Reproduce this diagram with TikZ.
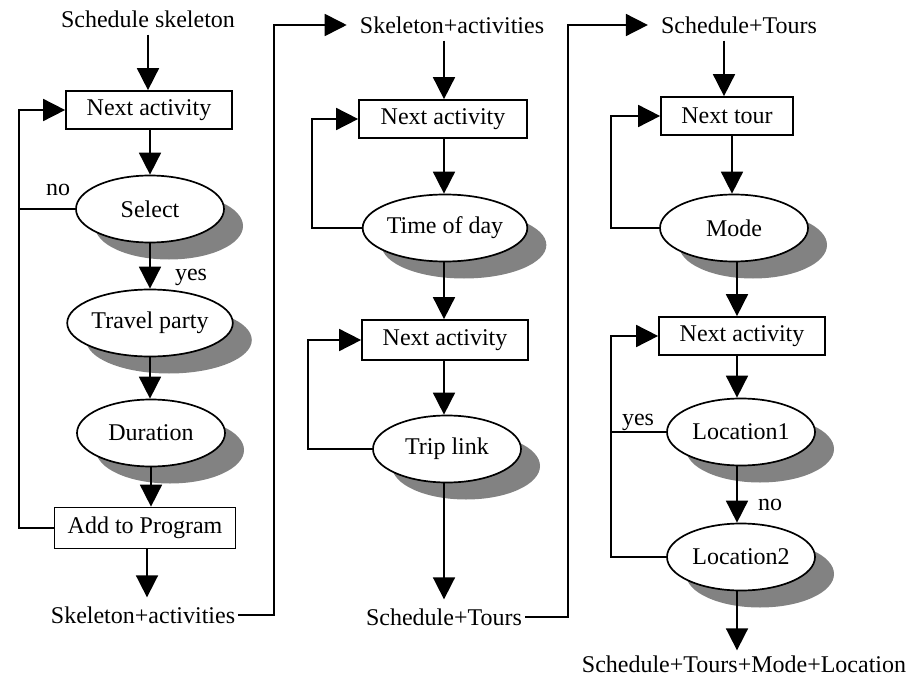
\documentclass[tikz,border=0pt]{standalone}
\usepackage{fontspec}
\setmainfont{Liberation Serif}
\usetikzlibrary{shapes.geometric,arrows.meta,shadows}
\definecolor{shadowgray}{HTML}{828282}
\begin{document}
\begin{tikzpicture}[x=1pt,y=-1pt,
  every node/.style={font=\fontsize{24}{28}\selectfont},
  line/.style={line width=1.7pt},
  arr/.style={line width=1.7pt,-{Triangle[width=22pt,length=22pt]}},
  txt/.style={inner sep=3pt},
  boxnode/.style={draw,line width=1.7pt,fill=white,inner sep=0pt,minimum height=38pt},
  ell/.style={ellipse,draw,line width=1.7pt,fill=white,inner sep=0pt,minimum width=148pt,minimum height=67pt,
    drop shadow={shadow xshift=19pt,shadow yshift=-17pt,fill=shadowgray,opacity=1}},
  lbl/.style={inner sep=0pt}]
\useasboundingbox (0,0) rectangle (919,677);
% ---------- column 1
\node[txt] (s1) at (148,19) {Schedule skeleton};
\node[boxnode,minimum width=166pt] (n1) at (149,110) {Next activity};
\node[ell] (sel) at (150,209) {Select};
\node[ell] (tp) at (150,323) {Travel party};
\node[ell] (dur) at (151,433) {Duration};
\node[boxnode,minimum width=181pt,minimum height=41pt] (add) at (145,528) {Add to Program};
\node[txt] (sa1) at (143,615) {Skeleton+activities};
\coordinate (c1) at (19,0);
\coordinate (c2) at (274,0);
\draw[arr,shorten <=4pt] (s1.south) -- (s1.south |- n1.north);
\draw[arr] (n1.south -| sel.north) -- (sel.north);
\draw[arr] (sel.south) -- (tp.north);
\draw[arr] (tp.south) -- (tp.south |- dur.north);
\draw[arr] (dur.south) -- (dur.south |- add.north);
\draw[arr,shorten >=6pt] (add.south -| 147,0) -- (sa1.north -| 147,0);
\draw[arr] (add.west) -| (c1 |- n1.west) -- (n1.west);
\draw[line] (sel.west) -- (sel.west -| c1);
\node[lbl] (no1) at (58,190) {no};
\node[lbl] (yes1) at (191,277) {yes};
% ---------- column 2
\node[txt] (sa2) at (452,25) {Skeleton+activities};
\draw[arr,shorten >=10pt] (sa1.east) -| (c2 |- sa2.west) -- (sa2.west);
\node[boxnode,minimum width=168pt] (n2) at (443,119) {Next activity};
\node[ell] (tod) at (445,228) {Time of day};
\node[boxnode,minimum width=166pt,minimum height=40pt] (n3) at (445,340) {Next activity};
\node[ell] (tl) at (447,449) {Trip link};
\node[txt] (st2) at (444,617) {Schedule+Tours};
\coordinate (c3) at (312,0);
\coordinate (c4) at (308,0);
\coordinate (c5) at (568,0);
\draw[arr,shorten <=4pt] (sa2.south -| 444,0) -- (n2.north -| 444,0);
\draw[arr] (n2.south -| 444,0) -- (tod.north -| 444,0);
\draw[arr] (tod.south -| 444,0) -- (n3.north -| 444,0);
\draw[arr] (n3.south -| 444,0) -- (tl.north -| 444,0);
\draw[arr,shorten >=6pt] (tl.south -| 444,0) -- (st2.north -| 444,0);
\draw[arr] (tod.west) -| (c3 |- n2.west) -- (n2.west);
\draw[arr] (tl.west) -| (c4 |- n3.west) -- (n3.west);
% ---------- column 3
\node[txt] (st3) at (739,25) {Schedule+Tours};
\draw[arr,shorten >=10pt] (st2.east) -| (c5 |- st3.west) -- (st3.west);
\node[boxnode,minimum width=132pt] (nt) at (727,116) {Next tour};
\node[ell] (mode) at (734,228) {Mode};
\node[boxnode,minimum width=166pt] (n4) at (742,336) {Next activity};
\node[ell] (loc1) at (741,432) {Location1};
\node[ell] (loc2) at (741,557) {Location2};
\node[txt] (fin) at (744,664) {Schedule+Tours+Mode+Location};
\coordinate (c6) at (611,0);
\draw[arr,shorten <=4pt] (st3.south -| 724,0) -- (nt.north -| 724,0);
\draw[arr] (nt.south -| 732,0) -- (mode.north -| 732,0);
\draw[arr] (mode.south -| 737,0) -- (n4.north -| 737,0);
\draw[arr] (n4.south -| 737,0) -- (loc1.north -| 737,0);
\draw[arr] (loc1.south -| 737,0) -- (loc2.north -| 737,0);
\draw[arr,shorten >=2pt] (loc2.south -| 737,0) -- (fin.north -| 737,0);
\draw[arr] (mode.west) -| (c6 |- nt.west) -- (nt.west);
\draw[arr] (loc2.west) -| (c6 |- n4.west) -- (n4.west);
\draw[line] (loc1.west) -- (loc1.west -| c6);
\node[lbl] (yes2) at (638,422) {yes};
\node[lbl] (no2) at (770,505) {no};
\end{tikzpicture}
\end{document}
